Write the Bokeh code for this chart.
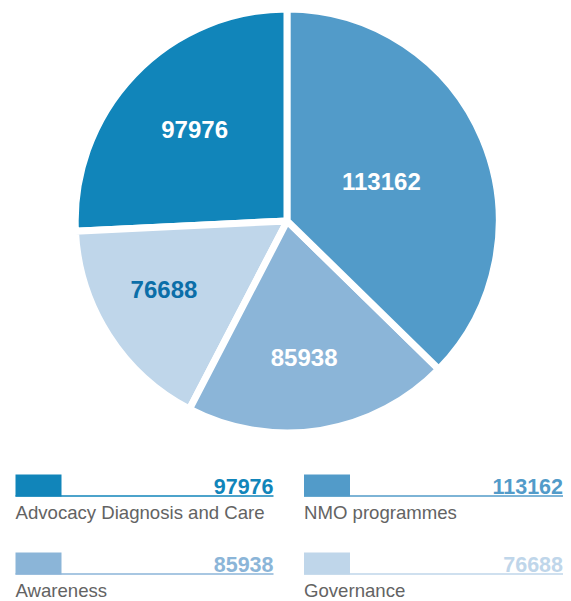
import math
from bokeh.plotting import figure
from bokeh.models import Range1d
from bokeh.core.properties import value
from bokeh.embed import file_html
from bokeh.resources import INLINE

# ---- data ----
categories = ["Advocacy Diagnosis and Care", "NMO programmes", "Awareness", "Governance"]
values = [97976, 113162, 85938, 76688]
# angular share of each slice in the drawn pie (percent)
shares = [25.75, 37.3, 20.3, 16.6]
colors = ["#1185ba", "#529bc9", "#8bb5d8", "#bfd6ea"]
pie_label_colors = ["#ffffff", "#ffffff", "#ffffff", "#0b6ea8"]

# order in which slices are laid out anticlockwise from 12 o'clock
pie_order = [0, 3, 2, 1]
# label placement (layout): radius fraction and angular nudge in degrees
label_r = {0: 0.624, 1: 0.49, 2: 0.658, 3: 0.676}
label_da = {0: -1.0, 1: 0.0, 2: -2.0, 3: -3.6}

W, H = 571, 601
p = figure(width=W, height=H, output_backend="svg", toolbar_location=None,
           x_range=Range1d(0, W), y_range=Range1d(0, H), min_border=0)
p.axis.visible = False
p.grid.visible = False
p.outline_line_color = None
p.background_fill_color = "white"
p.border_fill_color = "white"

cx, cy, R = 286.7, H - 220.5, 208.5
total = sum(shares)
starts, ends, fills, lx, ly, ltxt, lcol = [], [], [], [], [], [], []
a = math.pi / 2
for i in pie_order:
    span = shares[i] / total * 2 * math.pi
    starts.append(a)
    ends.append(a + span)
    fills.append(colors[i])
    mid = a + span / 2 + math.radians(label_da[i])
    lx.append(cx + label_r[i] * R * math.cos(mid))
    ly.append(cy + label_r[i] * R * math.sin(mid))
    ltxt.append(str(values[i]))
    lcol.append(pie_label_colors[i])
    a += span

p.wedge(x=cx, y=cy, radius=R + 3.5, start_angle=starts, end_angle=ends,
        fill_color=fills, line_color="white", line_width=7, direction="anticlock")
p.text(x=lx, y=ly, text=ltxt, text_color=lcol, text_align="center",
       text_baseline="middle", text_font=value("Liberation Sans"),
       text_font_style="bold", text_font_size="24px")

# ---- legend (2 x 2) ----
col_x = [15, 303.5]
col_right = [273, 562.5]
row_base = [H - 496, H - 574]
lg_x0, lg_x1, lg_y0, lg_y1 = [], [], [], []
sx0, sx1, sy, scol = [], [], [], []
vx, vy, vt, vc = [], [], [], []
tx, ty, tt = [], [], []
for k in range(4):
    c, r = k % 2, k // 2
    yb = row_base[r]
    lg_x0.append(col_x[c]); lg_x1.append(col_x[c] + 46)
    lg_y0.append(yb); lg_y1.append(yb + 22)
    sx0.append(col_x[c]); sx1.append(col_right[c]); sy.append(yb + 0.5); scol.append(colors[k])
    vx.append(col_right[c]); vy.append(yb + 10.5); vt.append(str(values[k])); vc.append(colors[k])
    tx.append(col_x[c]); ty.append(yb - 15.5); tt.append(categories[k])

p.quad(left=lg_x0, right=lg_x1, bottom=lg_y0, top=lg_y1, fill_color=scol, line_color=None)
p.segment(x0=sx0, y0=sy, x1=sx1, y1=sy, line_color=scol, line_width=1.5)
p.text(x=vx, y=vy, text=vt, text_color=vc, text_align="right", text_baseline="middle",
       text_font=value("Liberation Sans"), text_font_style="bold", text_font_size="21.5px")
p.text(x=tx, y=ty, text=tt, text_color="#636363", text_align="left", text_baseline="middle",
       text_font=value("Liberation Sans"), text_font_size="18.6px")

open("out.html", "w").write(file_html(p, INLINE))
